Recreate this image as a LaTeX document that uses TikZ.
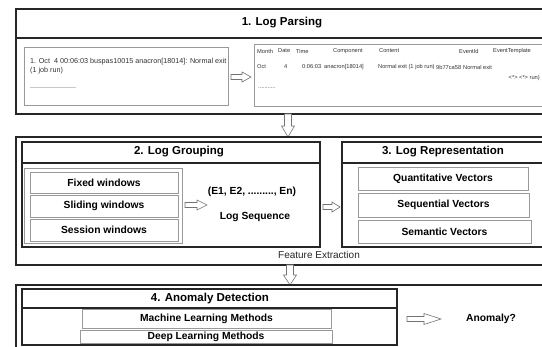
\documentclass[tikz,border=0pt]{standalone}
\usepackage{fontspec}
\setmainfont{Liberation Sans}
\usetikzlibrary{fit,calc}
\newcommand{\rblock}[6]{% x-start, x-end, y, shaft half, head half, head length
  \draw[arrowline] ({#1},{#3-#4}) -- ({#2-#6},{#3-#4}) -- ({#2-#6},{#3-#5}) -- ({#2},{#3})
    -- ({#2-#6},{#3+#5}) -- ({#2-#6},{#3+#4}) -- ({#1},{#3+#4}) -- cycle;}
\newcommand{\dblock}[6]{% y-start, y-end, x, shaft half, head half, head length
  \draw[arrowline] ({#3-#4},{#1}) -- ({#3-#4},{#2-#6}) -- ({#3-#5},{#2-#6}) -- ({#3},{#2})
    -- ({#3+#5},{#2-#6}) -- ({#3+#4},{#2-#6}) -- ({#3+#4},{#1}) -- cycle;}
\begin{document}
\begin{tikzpicture}[x=1pt,y=-1pt,
  dark/.style={draw=black!85, line width=1.3pt},
  light/.style={draw=black!40, line width=0.8pt},
  area/.style={inner sep=0pt, fit={#1}},
  titletext/.style={font=\fontsize{11.5}{13}\selectfont\bfseries},
  labeltext/.style={font=\fontsize{10.3}{12}\selectfont\bfseries},
  logtext/.style={font=\fontsize{7.2}{8.6}\selectfont, text=black!80, inner sep=0pt, align=left},
  tabtext/.style={font=\fontsize{5.7}{7}\selectfont, text=black!80, inner sep=0pt},
  arrowline/.style={draw=black!55, line width=0.6pt, fill=white}
]
\useasboundingbox (0,0) rectangle (542,347);
\fill[white] (0,0) rectangle (542,347);

% ---------- 1. Log Parsing ----------
\node[dark, area={(16,9) (570,114)}] (s1) {};
\draw[dark] (16,38) -- (570,38);
\node[titletext] (t1) at (282,23) {1. Log Parsing};
\node[light, area={(24,47) (228,105)}] (raw) {};
\node[logtext, anchor=north west] (rawline) at (30,58) {1. Oct\ \ 4 00:06:03 buspas10015 anacron[18014]: Normal exit\\(1 job run)};
\node[logtext, anchor=west] (rawdots) at (30,88) {.......................};
\node[light, area={(254,44) (570,106)}] (table) {};
\rblock{231}{251}{77}{2.5}{5}{9}
% header
\node[tabtext, anchor=west] (hmonth) at (257,51) {Month};
\node[tabtext, anchor=west] (hdate) at (278,51) {Date};
\node[tabtext, anchor=west] (htime) at (296,51) {Time};
\node[tabtext, anchor=west] (hcomp) at (333,51) {Component};
\node[tabtext, anchor=west] (hcont) at (379,51) {Content};
\node[tabtext, anchor=west] (hid) at (459,51) {EventId};
\node[tabtext, anchor=west] (htpl) at (493,51) {EventTemplate};
% row
\node[tabtext, anchor=west] (vmonth) at (257,67) {Oct};
\node[tabtext, anchor=west] (vdate) at (284,67) {4};
\node[tabtext, anchor=west] (vtime) at (302,67) {0:06:03};
\node[tabtext, anchor=west] (vcomp) at (324,67) {anacron[18014]};
\node[tabtext, anchor=west] (vcont) at (378,67) {Normal exit (1 job run)};
\node[tabtext, anchor=west] (vid) at (436,67) {9b77ca58};
\node[tabtext, anchor=west] (vtpl) at (463,67) {Normal exit};
\node[tabtext, anchor=east] (vtpl2) at (540,78) {<*> <*> run)};
\node[tabtext, anchor=west] (tdots) at (258,88) {...........};

\dblock{114}{137}{288}{3.5}{6.5}{11}

% ---------- Feature extraction container ----------
\node[dark, area={(16,137) (570,265)}] (fe) {};
\node[font=\fontsize{10}{12}\selectfont, text=black!85] (fetext) at (319,255) {Feature Extraction};

% ---------- 2. Log Grouping ----------
\node[dark, area={(22,142) (320,247)}] (s2) {};
\draw[dark] (22,163) -- (320,163);
\node[titletext] (t2) at (179,152) {2. Log Grouping};
\node[light, area={(24,168) (182,243)}] (win) {};
\node[light, area={(30,172) (178,193)}] (fixed) {};
\node[labeltext] (fixedt) at (fixed.center) {Fixed windows};
\node[light, area={(30,195) (178,217)}] (sliding) {};
\node[labeltext] (slidingt) at (sliding.center) {Sliding windows};
\node[light, area={(30,219) (178,241)}] (session) {};
\node[labeltext] (sessiont) at (session.center) {Session windows};
\rblock{185}{207}{205}{2.5}{5}{10}
\node[labeltext] (seq) at (252,192) {(E1, E2, ........., En)};
\node[labeltext] (seqlabel) at (255,217) {Log Sequence};

\rblock{323}{340}{207}{2.5}{5}{8}

% ---------- 3. Log Representation ----------
\node[dark, area={(342,142) (570,247)}] (s3) {};
\draw[dark] (342,163) -- (570,163);
\node[titletext] (t3) at (443,152) {3. Log Representation};
\node[light, area={(358,167) (528,190)}] (quant) {};
\node[labeltext] (quantt) at (quant.center) {Quantitative Vectors};
\node[light, area={(358,193) (529,217)}] (sequ) {};
\node[labeltext] (sequt) at (sequ.center) {Sequential Vectors};
\node[light, area={(358,220) (531,243)}] (sem) {};
\node[labeltext] (semt) at (sem.center) {Semantic Vectors};

\dblock{265}{285}{290}{3.5}{6.5}{10}

% ---------- 4. Anomaly Detection ----------
\node[dark, area={(16,285) (570,370)}] (ad) {};
\node[dark, area={(22,289) (397,345)}] (s4) {};
\draw[dark] (22,308) -- (397,308);
\node[titletext] (t4) at (210,299) {4. Anomaly Detection};
\node[light, area={(82,309) (331,328)}] (ml) {};
\node[labeltext] (mlt) at (ml.center) {Machine Learning Methods};
\node[light, area={(80,330) (332,343)}] (dl) {};
\node[labeltext] (dlt) at (dl.center) {Deep Learning Methods};
\rblock{407}{441}{319}{2.5}{5.5}{17}
\node[labeltext] (anom) at (491,319) {Anomaly?};
\end{tikzpicture}
\end{document}
